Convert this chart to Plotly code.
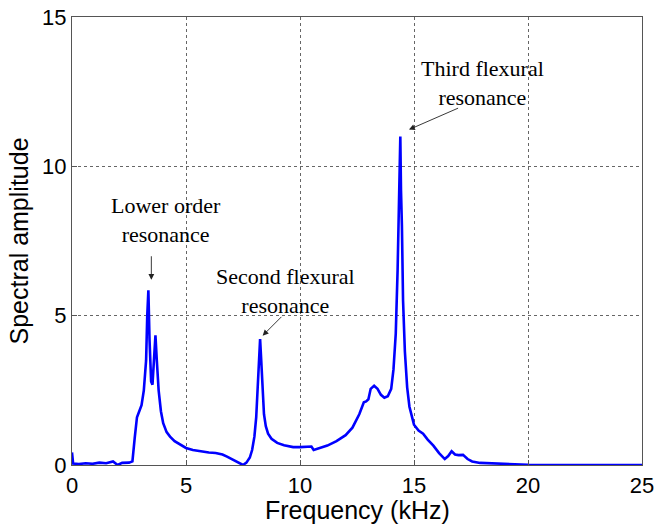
import plotly.graph_objects as go

# Frequency (kHz) and spectral amplitude
freq = [0.0, 0.05, 0.3, 0.6, 0.9, 1.2, 1.5, 1.8, 2.0, 2.2, 2.5, 2.65, 2.75, 2.85, 2.95,
        3.05, 3.15, 3.25, 3.3, 3.35, 3.4, 3.47, 3.53, 3.6, 3.66, 3.72, 3.8, 3.9, 4.0,
        4.15, 4.3, 4.5, 4.8, 5.0, 5.3, 5.6, 6.0, 6.3, 6.5, 6.6, 6.8, 7.0, 7.2, 7.4,
        7.5, 7.65, 7.8, 7.9, 8.0, 8.08, 8.15, 8.2, 8.25, 8.3, 8.35, 8.42, 8.5, 8.6,
        8.75, 9.0, 9.3, 9.7, 10.0, 10.3, 10.5, 10.6, 10.8, 11.2, 11.6, 12.0, 12.3,
        12.6, 12.8, 12.9, 13.0, 13.1, 13.25, 13.4, 13.55, 13.7, 13.85, 14.0, 14.1,
        14.2, 14.28, 14.33, 14.37, 14.4, 14.43, 14.47, 14.52, 14.6, 14.7, 14.8, 15.0,
        15.2, 15.4, 15.6, 15.85, 16.1, 16.35, 16.5, 16.65, 16.8, 16.95, 17.15, 17.35,
        17.55, 17.9, 18.5, 19.0, 19.5, 20.0, 21.0, 22.0, 23.0, 24.0, 25.0]
amplitude = [0.42, 0.05, 0.03, 0.06, 0.04, 0.08, 0.06, 0.12, 0.0, 0.07, 0.08, 0.12, 0.9,
             1.6, 1.8, 2.0, 2.5, 3.5, 5.0, 5.85, 4.2, 2.8, 2.69, 3.6, 4.34, 3.5, 2.5, 1.8,
             1.4, 1.1, 0.95, 0.8, 0.65, 0.57, 0.5, 0.46, 0.42, 0.4, 0.38, 0.35, 0.28,
             0.2, 0.12, 0.04, 0.0, 0.08, 0.25, 0.5, 0.95, 1.6, 2.7, 3.6, 4.22, 3.5, 2.5,
             1.7, 1.3, 1.05, 0.88, 0.74, 0.66, 0.6, 0.6, 0.62, 0.62, 0.5, 0.55, 0.65,
             0.8, 1.0, 1.25, 1.7, 2.1, 2.13, 2.2, 2.55, 2.65, 2.55, 2.35, 2.25, 2.3,
             2.55, 3.2, 4.4, 6.5, 8.5, 9.5, 11.0, 9.2, 8.0, 5.5, 3.8, 2.6, 1.95, 1.35,
             1.15, 1.05, 0.85, 0.65, 0.4, 0.2, 0.3, 0.46, 0.35, 0.33, 0.34, 0.2, 0.12,
             0.07, 0.05, 0.04, 0.03, 0.01, 0.0, 0.0, 0.0, 0.0, 0.0]

x_ticks = [0, 5, 10, 15, 20, 25]
y_ticks = [0, 5, 10, 15]

# annotation labels: (text, x, y) in data units
labels = [
    ("Lower order<br>resonance", 4.11, 8.19),
    ("Second flexural<br>resonance", 9.38, 5.83),
    ("Third flexural<br>resonance", 18.0, 12.80),
]
# arrows: (tail_x, tail_y, head_x, head_y)
arrows = [
    (3.48, 7.04, 3.48, 6.2),
    (9.25, 5.01, 8.36, 4.33),
    (17.0, 11.97, 14.78, 11.23),
]

fig = go.Figure()
fig.add_trace(go.Scatter(x=freq, y=amplitude, mode="lines",
                         line=dict(color="#0000ff", width=2.6), showlegend=False))

serif = "Times New Roman, Liberation Serif, serif"
for text, x, y in labels:
    fig.add_annotation(x=x, y=y, text=text, showarrow=False, xref="x", yref="y",
                       xanchor="center", yanchor="middle", align="center",
                       font=dict(family=serif, size=22, color="black"))
for tx, ty, hx, hy in arrows:
    fig.add_annotation(x=hx, y=hy, ax=tx, ay=ty, xref="x", yref="y", axref="x", ayref="y",
                       text="", showarrow=True, arrowhead=2, arrowsize=1.3,
                       arrowwidth=0.9, arrowcolor="#222222")

sans = "Arial, Liberation Sans, sans-serif"
axis_common = dict(showline=True, linecolor="#555555", linewidth=1, mirror=True,
                   ticks="inside", ticklen=5, tickcolor="#555555", automargin=False,
                   showgrid=True, gridcolor="#666666", griddash="dot", gridwidth=1,
                   zeroline=False, tickfont=dict(family=sans, size=22, color="black"))

fig.update_xaxes(range=[0, 25], tickvals=x_ticks, ticktext=[str(v) for v in x_ticks],
                 ticklabelstandoff=1, **axis_common)
fig.update_yaxes(range=[0, 15], tickvals=y_ticks, ticktext=[str(v) for v in y_ticks],
                 title=dict(text="Spectral amplitude", font=dict(family=sans, size=25, color="black"),
                            standoff=6),
                 **axis_common)

# x-axis title placed as paper annotation to match reference spacing
fig.add_annotation(x=0.5, y=-45 / 448, xref="paper", yref="paper", text="Frequency (kHz)",
                   showarrow=False, xanchor="center", yanchor="middle",
                   font=dict(family=sans, size=25, color="black"))

fig.update_layout(width=661, height=529,
                  margin=dict(l=72, r=19, t=17, b=64, pad=0),
                  paper_bgcolor="white", plot_bgcolor="white")

fig.write_html("out.html")
